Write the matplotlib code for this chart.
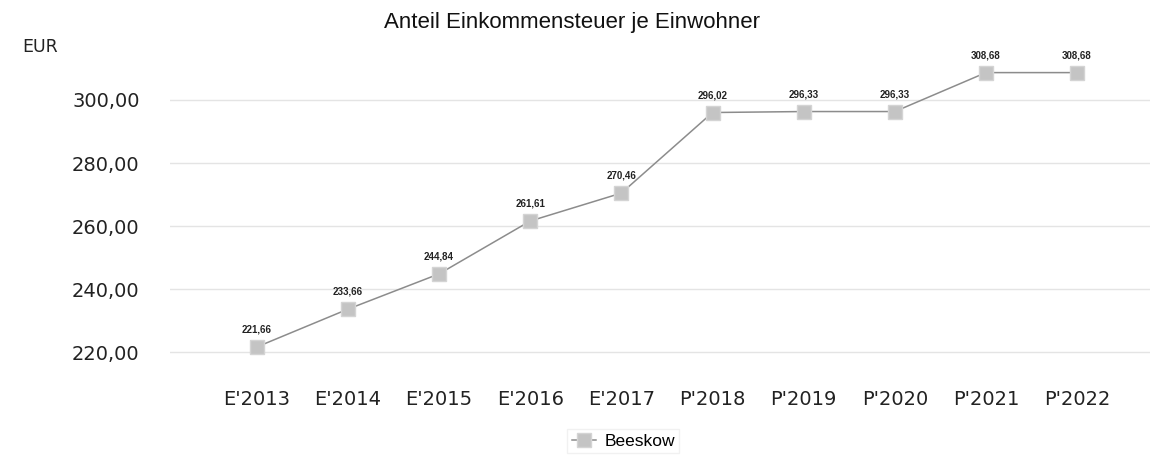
import matplotlib
matplotlib.use("Agg")
import matplotlib.pyplot as plt

categories = ["E'2013", "E'2014", "E'2015", "E'2016", "E'2017",
              "P'2018", "P'2019", "P'2020", "P'2021", "P'2022"]
values = [221.66, 233.66, 244.84, 261.61, 270.46, 296.02, 296.33, 296.33, 308.68, 308.68]
yticks = [220, 240, 260, 280, 300]
series_name = "Beeskow"
title = "Anteil Einkommensteuer je Einwohner"
unit = "EUR"

fig = plt.figure(figsize=(11.5, 4.61), dpi=100)
ax = fig.add_axes([0.148, 0.197, 0.852, 0.673])
x = list(range(len(categories)))
ax.plot(x, values, color="#8c8c8c", lw=1.1, marker="s", markersize=10,
        markerfacecolor="#c4c4c4", markeredgecolor="#d4d4d4", markeredgewidth=1,
        label=series_name, zorder=3)
for xi, v in zip(x, values):
    ax.annotate(f"{v:.2f}".replace(".", ","), (xi, v), xytext=(0, 9),
                textcoords="offset points", ha="center", va="bottom",
                fontsize=7, fontweight="bold", family="Liberation Sans", color="#222222")

ax.set_xlim(-0.95, 9.8)
ax.set_ylim(214.3, 312.7)
ax.set_yticks(yticks)
ax.set_yticklabels([f"{t:.2f}".replace(".", ",") for t in yticks])
ax.set_xticks(x)
ax.set_xticklabels(categories)
ax.tick_params(axis="both", length=0, labelsize=14, colors="#222222")
ax.tick_params(axis="y", pad=22)
ax.tick_params(axis="x", pad=14)
for s in ax.spines.values():
    s.set_visible(False)
ax.grid(axis="y", color="#e4e4e4", lw=1)
ax.set_axisbelow(True)

fig.text(0.497, 0.952, title, ha="center", va="center", fontsize=16,
         family="Liberation Sans", color="#111111")
fig.text(0.019, 0.898, unit, ha="left", va="center", fontsize=12.5, color="#222222")

leg = fig.legend(loc="center", bbox_to_anchor=(0.542, 0.043), frameon=True,
                 fontsize=12.5, handlelength=1.4, handletextpad=0.5,
                 borderpad=0.25, fancybox=False)
leg.get_frame().set_edgecolor("#eeeeee")
leg.get_frame().set_linewidth(1)
for t in leg.get_texts():
    t.set_family("Liberation Sans")

fig.savefig("out.png", dpi=100, facecolor="white")
